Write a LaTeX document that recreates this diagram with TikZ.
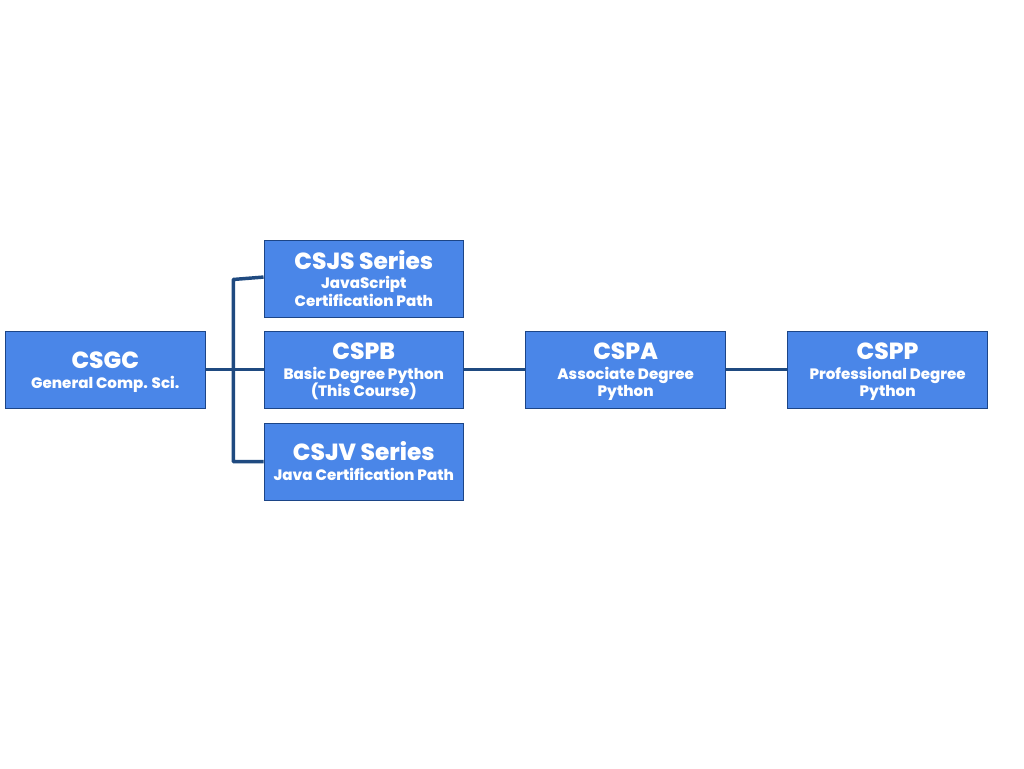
\documentclass[tikz,border=0pt]{standalone}
\usepackage{fontspec}
\setmainfont{Poppins}[BoldFont={Poppins ExtraBold}]
\definecolor{boxfill}{HTML}{4A86E8}
\definecolor{boxedge}{HTML}{1C4587}
\definecolor{linkcol}{HTML}{1F4A80}
\begin{document}
\begin{tikzpicture}[x=0.75pt,y=-0.75pt,
  box/.style={draw=boxedge, line width=0.8pt, fill=boxfill,
    minimum width=149.6pt, minimum height=57.5pt, inner sep=0pt},
  ttl/.style={text=white, inner sep=0pt, anchor=base, font=\fontsize{17.5}{20}\selectfont\bfseries},
  sub/.style={text=white, inner sep=0pt, anchor=base, font=\fontsize{11.3}{13.5}\selectfont\bfseries},
  link/.style={draw=linkcol, line width=2.6pt}]
\useasboundingbox[fill=white] (0,0) rectangle (1024,768);
\node[box] (csgc) at (105.3,369.7) {};
\node[box] (csjs) at (363.8,278.8) {};
\node[box] (cspb) at (363.8,369.7) {};
\node[box] (csjv) at (363.8,461.7) {};
\node[box] (cspa) at (625.6,369.7) {};
\node[box] (cspp) at (887.6,369.7) {};
% two-line boxes
\node[ttl] (csgc-a) at ([yshift=0.75pt]csgc.center) {CSGC};
\node[sub] (csgc-b) at ([yshift=-14pt]csgc.center) {General Comp. Sci.};
\node[ttl] (csjv-a) at ([yshift=0.75pt]csjv.center) {CSJV Series};
\node[sub] (csjv-b) at ([yshift=-14pt]csjv.center) {Java Certification Path};
% three-line boxes
\node[ttl] (csjs-a) at ([yshift=7.3pt]csjs.center) {CSJS Series};
\node[sub] (csjs-b) at ([yshift=-7.5pt]csjs.center) {JavaScript};
\node[sub] (csjs-c) at ([yshift=-20.4pt]csjs.center) {Certification Path};
\node[ttl] (cspb-a) at ([yshift=7.3pt]cspb.center) {CSPB};
\node[sub] (cspb-b) at ([yshift=-7.5pt]cspb.center) {Basic Degree Python};
\node[sub] (cspb-c) at ([yshift=-20.4pt]cspb.center) {(This Course)};
\node[ttl] (cspa-a) at ([yshift=7.3pt]cspa.center) {CSPA};
\node[sub] (cspa-b) at ([yshift=-7.5pt]cspa.center) {Associate Degree};
\node[sub] (cspa-c) at ([yshift=-20.4pt]cspa.center) {Python};
\node[ttl] (cspp-a) at ([yshift=7.3pt]cspp.center) {CSPP};
\node[sub] (cspp-b) at ([yshift=-7.5pt]cspp.center) {Professional Degree};
\node[sub] (cspp-c) at ([yshift=-20.4pt]cspp.center) {Python};
% connectors
\coordinate (bx) at (233.3,369.7);
\path[link] (csgc.east) -- (cspb.west);
\path[link, line join=round] ([yshift=1.3pt]csjs.west) -- ([yshift=-0.5pt]bx |- csjs.west) -- (bx |- csjv.west) -- (csjv.west);
\path[link] (cspb.east) -- (cspa.west);
\path[link] (cspa.east) -- (cspp.west);
\end{tikzpicture}
\end{document}
